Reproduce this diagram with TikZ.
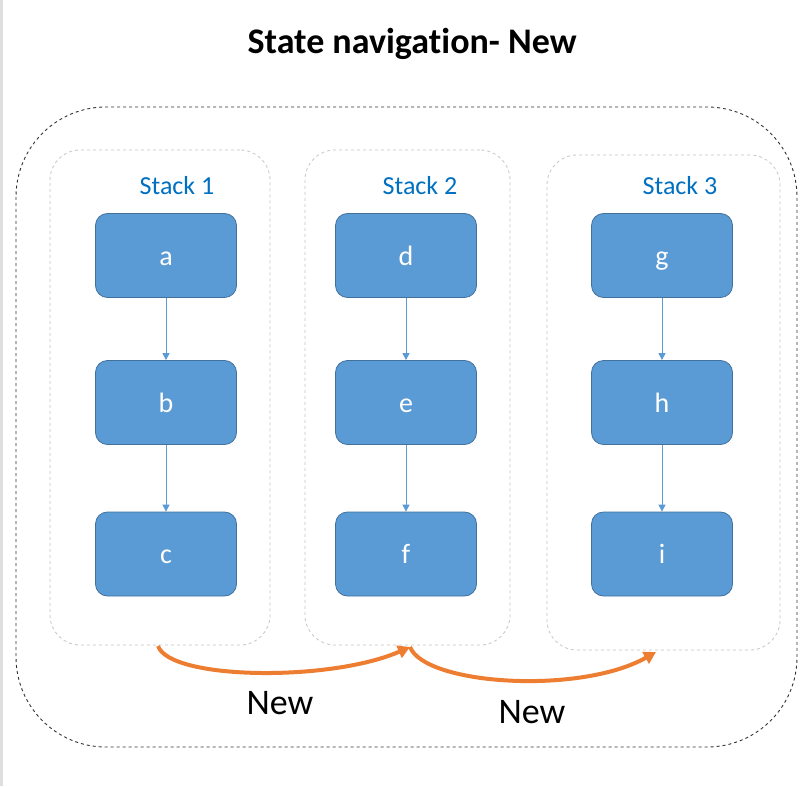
\documentclass[tikz,border=0pt]{standalone}
\usepackage{fontspec}
\setmainfont[Ligatures=NoCommon,Contextuals=NoAlternate]{Carlito}
\usetikzlibrary{arrows.meta}
\definecolor{nodefill}{HTML}{5B9BD5}
\definecolor{nodeedge}{HTML}{41719C}
\definecolor{stackblue}{HTML}{0070C0}
\definecolor{orangearr}{HTML}{ED7D31}
\tikzset{
  statebox/.style={draw=nodeedge, line width=0.8pt, fill=nodefill, rounded corners=12pt,
    minimum width=141pt, minimum height=84pt, text=white, font=\fontsize{28}{32}\selectfont,
    inner sep=0pt, text height=19pt, text depth=0pt},
  stackbox/.style={draw=gray!45, dashed, line width=0.8pt, rounded corners=30pt, inner sep=0pt},
  stacklabel/.style={text=stackblue, font=\fontsize{26}{30}\selectfont, inner sep=0pt},
  flow/.style={draw=nodefill, line width=1pt, -{Triangle[length=7pt,width=7pt]}},
  newarr/.style={draw=orangearr, line width=4pt, -{Triangle[length=12pt,width=13pt]}},
  newlabel/.style={font=\fontsize{36}{40}\selectfont, inner sep=0pt}
}
\begin{document}
\begin{tikzpicture}[x=1pt,y=-1pt]
\useasboundingbox (0,0) rectangle (810,786);
\fill[white] (0,0) rectangle (810,786);
\draw[gray!25, line width=3pt] (1.5,0) -- (1.5,786);
\node[font=\bfseries\fontsize{36}{40}\selectfont, inner sep=0pt] (title) at (412,44) {State navigat\kern0pt ion- New};
\draw[black!80, dashed, line width=0.9pt, rounded corners=90pt] (16,107) rectangle (797,747);
% stacks
\node[stackbox, minimum width=220pt, minimum height=495pt] (s1) at (160,397.5) {};
\node[stackbox, minimum width=205pt, minimum height=495pt] (s2) at (407.5,397.5) {};
\node[stackbox, minimum width=233pt, minimum height=495pt] (s3) at (663.5,402.5) {};
\node[stacklabel] (l1) at (177,186) {Stack 1};
\node[stacklabel] (l2) at (420,186) {Stack 2};
\node[stacklabel] (l3) at (680,186) {Stack 3};
% states
\node[statebox] (a) at (166,255.5) {a};
\node[statebox] (b) at (166,402.5) {b};
\node[statebox] (c) at (166,554) {c};
\node[statebox] (d) at (406,255.5) {d};
\node[statebox] (e) at (406,402.5) {e};
\node[statebox] (f) at (406,554) {f};
\node[statebox] (g) at (662,255.5) {g};
\node[statebox] (h) at (662,402.5) {h};
\node[statebox] (i) at (662,554) {i};
\draw[flow] (a) -- (b);
\draw[flow] (b) -- (c);
\draw[flow] (d) -- (e);
\draw[flow] (e) -- (f);
\draw[flow] (g) -- (h);
\draw[flow] (h.south) -- (i.north);
% new arrows
\coordinate (p1) at (158,646);
\coordinate (p2) at (410,647);
\coordinate (p3) at (656,652);
\draw[newarr] (p1) .. controls (170,680) and (330,682) .. (p2);
\draw[newarr] (p2) .. controls (425,685) and (580,695) .. (p3);
\node[newlabel] (n1) at (280,703) {New};
\node[newlabel] (n2) at (532,712) {New};
\end{tikzpicture}
\end{document}
